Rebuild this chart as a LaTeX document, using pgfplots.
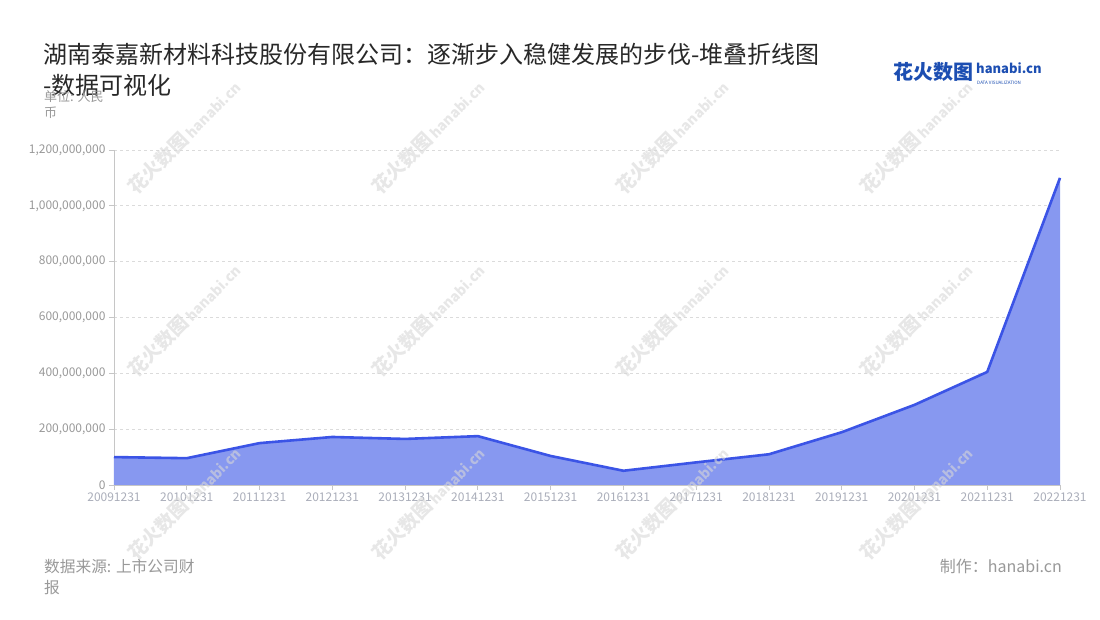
\documentclass[border=0pt]{standalone}
\usepackage{pgfplots}
\pgfplotsset{compat=1.18}
\usepackage{fontspec}
\setmainfont{Noto Sans CJK SC}
\definecolor{linec}{RGB}{59,84,230}
\definecolor{fillc}{RGB}{135,152,240}
\definecolor{tickc}{RGB}{153,153,153}
\definecolor{xtickc}{RGB}{170,174,186}
\definecolor{titlec}{RGB}{40,40,40}
\definecolor{logoc}{RGB}{28,78,178}
\definecolor{wmc}{RGB}{215,215,215}
\begin{document}
\begin{tikzpicture}
\useasboundingbox[fill=white] (0pt,0pt) rectangle (1100pt,620pt);
\begin{axis}[
  at={(114pt,135pt)}, anchor=south west, scale only axis,
  width=946pt, height=335pt,
  xmin=0, xmax=13, ymin=0, ymax=1.2e9,
  axis x line=bottom, axis y line=left,
  axis line style={-, draw=gray!45, line width=0.9pt},
  xtick={0,...,13},
  xticklabels={20091231,20101231,20111231,20121231,20131231,20141231,20151231,20161231,20171231,20181231,20191231,20201231,20211231,20221231},
  ytick={0,2e8,4e8,6e8,8e8,1e9,1.2e9},
  scaled y ticks=false,
  y tick label style={/pgf/number format/fixed, /pgf/number format/1000 sep={,}, /pgf/number format/assume math mode=true, font=\fontsize{12}{14}\selectfont, text=tickc},
  x tick label style={font=\fontsize{12}{14}\selectfont, text=xtickc, yshift=1pt},
  tick align=outside, major tick length=5pt,
  tick style={draw=gray!45, line width=0.8pt},
  ymajorgrids, major grid style={dashed, draw=gray!28, line width=0.7pt},
  clip=false,
]
\addplot[fill=fillc, draw=none] coordinates {
(0,100e6) (1,96e6) (2,150e6) (3,172e6) (4,165e6) (5,175e6) (6,104e6) (7,51e6) (8,81e6) (9,110e6) (10,189e6) (11,287e6) (12,405e6) (13,1100e6)
} \closedcycle;
\addplot[draw=linec, line width=2.6pt, mark=none, line join=round] coordinates {
(0,100e6) (1,96e6) (2,150e6) (3,172e6) (4,165e6) (5,175e6) (6,104e6) (7,51e6) (8,81e6) (9,110e6) (10,189e6) (11,287e6) (12,405e6) (13,1100e6)
};
\end{axis}
% watermarks
\foreach \cx in {184,428,672,916}{
  \foreach \cy in {483,300,117}{
    \node[rotate=45, text=wmc, text opacity=0.6, inner sep=0, font=\fontsize{19}{21}\selectfont\bfseries] at (\cx pt,\cy pt) {花火数图\,{\fontsize{14}{16}\selectfont hanabi.cn}};
  }
}
% title
\node[anchor=base west, inner sep=0, text=titlec, font=\fontsize{24}{28}\selectfont] at (43pt,556pt) {湖南泰嘉新材料科技股份有限公司：逐渐步入稳健发展的步伐-堆叠折线图};
\node[anchor=base west, inner sep=0, text=titlec, font=\fontsize{24}{28}\selectfont] at (43pt,525pt) {-数据可视化};
\node[anchor=base west, inner sep=0, text=tickc, font=\fontsize{13}{15}\selectfont] at (44pt,518pt) {单位: 人民};
\node[anchor=base west, inner sep=0, text=tickc, font=\fontsize{13}{15}\selectfont] at (44pt,502pt) {币};
% logo
\node[anchor=base west, inner sep=0, text=logoc, font=\fontsize{20}{22}\selectfont\bfseries] at (893pt,540pt) {花火数图};
\node[anchor=base west, inner sep=0, text=logoc, font=\fontsize{13}{15}\selectfont\bfseries] at (976pt,546pt) {hanabi.cn};
\node[anchor=base west, inner sep=0, text=logoc, font=\fontsize{4.5}{5}\selectfont] at (977pt,535pt) {DATA VISUALIZATION};
% footer
\node[anchor=base west, inner sep=0, text=tickc, font=\fontsize{15.7}{18}\selectfont] at (44pt,47pt) {数据来源: 上市公司财};
\node[anchor=base west, inner sep=0, text=tickc, font=\fontsize{15.7}{18}\selectfont] at (44pt,26pt) {报};
\node[anchor=base east, inner sep=0, text=tickc, font=\fontsize{16}{18}\selectfont] at (1062pt,47pt) {制作：hanabi.cn};
\end{tikzpicture}
\end{document}
